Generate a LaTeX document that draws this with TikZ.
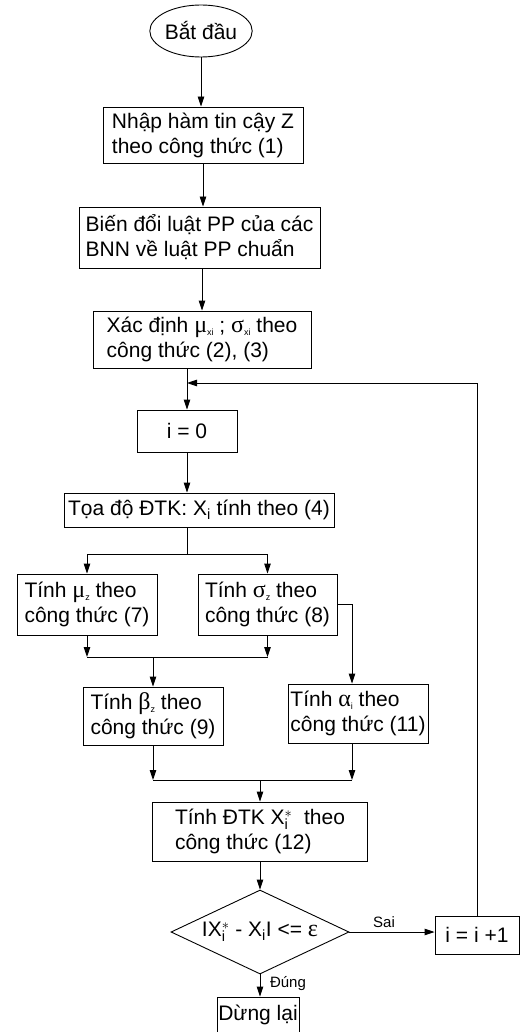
\documentclass[tikz,border=0pt]{standalone}
\usepackage{fontspec}
\setmainfont{Liberation Sans}
\newfontfamily\grfont{Liberation Serif}
\usetikzlibrary{arrows.meta, shapes.geometric}

\newcommand{\gk}[1]{{\grfont\fontsize{24}{25}\selectfont #1}}
\newcommand{\sub}[1]{\raisebox{-3pt}{\fontsize{9}{9}\selectfont #1}}
\newcommand{\xst}{X\ensuremath{^{\ast}_{\mathrm{i}}}}

\tikzset{
  box/.style={draw, align=left, inner sep=0pt},
  cbox/.style={draw, align=center, inner sep=0pt},
  term/.style={draw, ellipse, inner sep=0pt},
  dec/.style={draw, diamond, aspect=2.1, inner sep=0pt},
  arr/.style={-{Triangle[length=10pt,width=6.5pt]}},
  lbl/.style={font=\fontsize{15}{18}\selectfont, inner sep=0pt},
}

\begin{document}
\begin{tikzpicture}[x=1pt, y=-1pt, line width=0.9pt, font=\fontsize{21}{25}\selectfont]
\useasboundingbox (0,0) rectangle (522,1032);

% Steps
\node[term, minimum width=99pt, minimum height=52pt] (start) at (201,31) {Bắt đầu};
\node[box, minimum width=200pt, minimum height=56pt] (input) at (203,135) {Nhập hàm tin cậy Z\\theo công thức (1)};
\node[box, minimum width=241pt, minimum height=61pt] (convert) at (199.5,237.5) {Biến đổi luật PP của các\\BNN về luật PP chuẩn};
\node[box, minimum width=218pt, minimum height=57pt] (moments) at (202,339.5) {Xác định \gk{μ}\sub{xi} ; \gk{σ}\sub{xi} theo\\công thức (2), (3)};
\node[cbox, minimum width=100pt, minimum height=42pt] (init) at (187,431) {i = 0};
\node[cbox, minimum width=270pt, minimum height=34pt] (coord) at (199,510) {Tọa độ ĐTK: X\textsubscript{i} tính theo (4)};
\node[box, minimum width=140pt, minimum height=61pt] (muz) at (87,604.5) {Tính \gk{μ}\sub{z} theo\\công thức (7)};
\node[box, minimum width=139pt, minimum height=61pt] (sigz) at (267.5,604.5) {Tính \gk{σ}\sub{z} theo\\công thức (8)};
\node[box, minimum width=140pt, minimum height=58pt] (betaz) at (153,716) {Tính \gk{β}\sub{z} theo\\công thức (9)};
\node[box, minimum width=140pt, minimum height=59pt] (alphai) at (358,713.5) {Tính \gk{α}\sub{i} theo\\công thức (11)};
\node[box, minimum width=215pt, minimum height=59pt] (newpt) at (260,831.5) {Tính ĐTK \xst~ theo\\công thức (12)};
\node[dec, minimum width=178pt, minimum height=84pt] (test) at (260,932) {I\xst\ - X\textsubscript{i}I <= \gk{ε}};
\node[cbox, minimum width=84pt, minimum height=38pt] (incr) at (477,935) {i = i +1};
\node[cbox, minimum width=82pt, minimum height=36pt] (stop) at (258,1015) {Dừng lại};

% Junctions
\coordinate (merge) at (187,383);
\coordinate (split) at (187,554);
\coordinate (join1) at (153,657);
\coordinate (join2) at (260,780);

% Main flow
\draw[arr] (start) -- (start |- input.north);
\draw[arr] (input.south) -- (input.south |- convert.north);
\draw[arr] (moments.north |- convert.south) -- (moments.north);
\draw[arr] (init.north |- moments.south) -- (init.north);
\draw[arr] (init.south) -- (init.south |- coord.north);
\draw (init.south |- coord.south) -- (split);
\draw[arr] (split) -| (muz.north);
\draw[arr] (split) -| (sigz.north);
\draw[arr] (muz.south) -- (muz.south |- join1);
\draw[arr] (sigz.south) -- (sigz.south |- join1);
\draw (muz.south |- join1) -- (sigz.south |- join1);
\draw[arr] (join1) -- (betaz.north);
\draw[arr] (sigz.east) -| ([xshift=-6pt]alphai.north);
\draw[arr] (betaz.south) -- (betaz.south |- join2);
\draw[arr] ([xshift=-6pt]alphai.south) -- ([xshift=-6pt]alphai.south |- join2);
\draw (betaz.south |- join2) -- ([xshift=-6pt]alphai.south |- join2);
\draw[arr] (join2) -- (newpt.north);
\draw[arr] (newpt.south) -- (test.north);

% Branches
\draw[arr] (test.east) -- (test.east -| incr.west);
\node[lbl] (no) at (384,922) {Sai};
\draw[arr] (test.south) -- (test.south |- stop.north);
\node[lbl] (yes) at (288,984) {Đúng};

% Loop back
\draw[arr] (incr.north) -- (incr.north |- merge) -- (merge);
\end{tikzpicture}
\end{document}
